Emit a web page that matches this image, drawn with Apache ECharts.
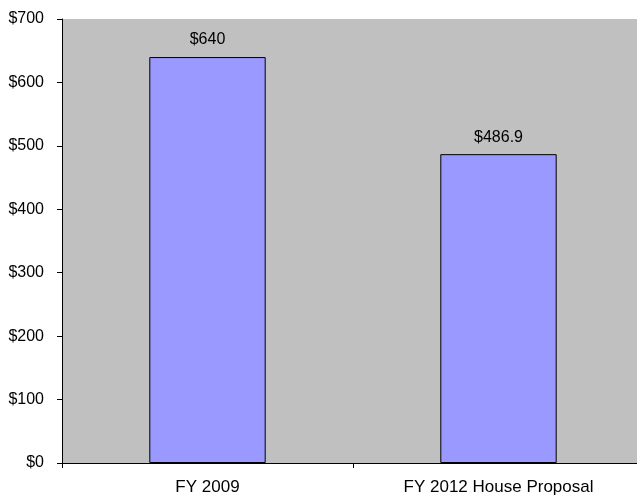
<!DOCTYPE html>
<html>
<head>
<meta charset="utf-8">
<script src="https://cdn.jsdelivr.net/npm/echarts@6/dist/echarts.min.js"></script>
<style>
html, body { margin: 0; padding: 0; background: #fff; overflow: hidden; }
#main { width: 644px; height: 496px; }
</style>
</head>
<body>
<div id="main"></div>
<script>
var categories = ["FY 2009", "FY 2012 House Proposal"];
var values = [640, 486.9];
var valueLabels = ["$640", "$486.9"];
var yTicks = [0, 100, 200, 300, 400, 500, 600, 700];

// plot area runs past the right edge of the window, like the original
var chart = echarts.init(document.getElementById("main"));
var option = {
	animation: false,
	textStyle: { fontFamily: "Liberation Sans, Arial, sans-serif" },
	grid: {
		left: 62,
		right: 0,
		top: 19,
		bottom: 33,
		show: true,
		backgroundColor: "#C0C0C0",
		borderWidth: 0
	},
	xAxis: {
		type: "category",
		data: categories,
		axisLine: { lineStyle: { color: "#000", width: 1 } },
		axisTick: { show: true, alignWithLabel: false, length: 5, lineStyle: { color: "#000" } },
		axisLabel: { color: "#000", fontSize: 17, margin: 16 },
		splitLine: { show: false }
	},
	yAxis: {
		type: "value",
		min: yTicks[0],
		max: yTicks[yTicks.length - 1],
		interval: 100,
		axisLine: { show: true, lineStyle: { color: "#000", width: 1 } },
		axisTick: { show: true, length: 5, lineStyle: { color: "#000" } },
		axisLabel: {
			color: "#000",
			fontSize: 16,
			margin: 18,
			formatter: function(v) { return "$" + v; }
		},
		splitLine: { show: false }
	},
	series: [{
		type: "bar",
		data: values,
		barWidth: "40%",
		itemStyle: { color: "#9999FF", borderColor: "#000", borderWidth: 1 },
		label: {
			show: true,
			position: "top",
			distance: 9,
			color: "#000",
			fontSize: 16,
			formatter: function(p) { return valueLabels[p.dataIndex]; }
		}
	}]
};
chart.setOption(option);
</script>
</body>
</html>
